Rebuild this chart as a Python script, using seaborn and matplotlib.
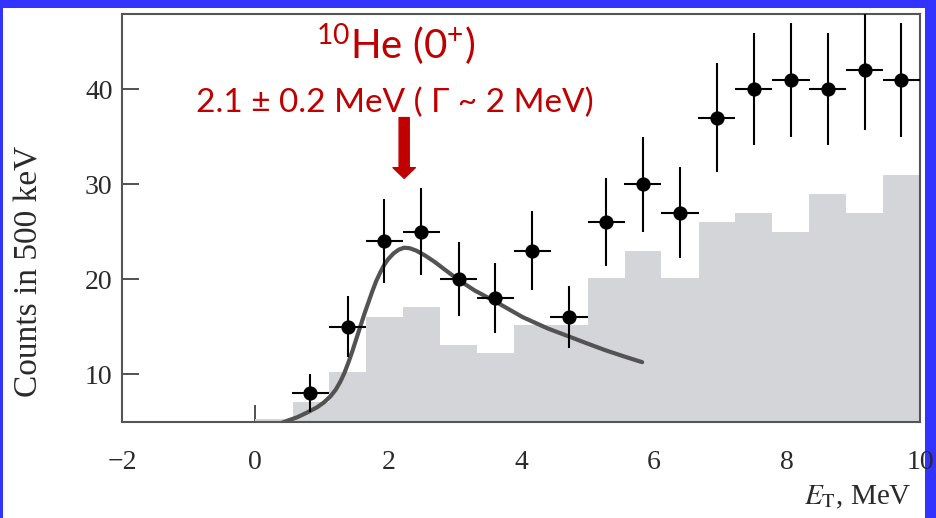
import numpy as np
import pandas as pd
import matplotlib
matplotlib.use("Agg")
import matplotlib.pyplot as plt
import seaborn as sns
from matplotlib.patches import Rectangle

# ---------------- data ----------------
point_x = [0.83, 1.39, 1.94, 2.50, 3.06, 3.61, 4.17, 4.72, 5.28, 5.83,
           6.39, 6.94, 7.50, 8.06, 8.61, 9.17, 9.72]
point_counts = [8, 15, 24, 25, 20, 18, 23, 16, 26, 30, 27, 37, 40, 41, 40, 42, 41]
point_err = [2.0, 3.2, 4.4, 4.6, 3.9, 3.65, 4.2, 3.25, 4.65, 5.0, 4.75,
             5.7, 5.9, 6.0, 5.9, 6.3, 6.0]
bin_half_width = 0.28

hist_edges = [0.0, 0.56, 1.11, 1.67, 2.22, 2.78, 3.33, 3.89, 4.44, 5.00,
              5.56, 6.11, 6.67, 7.22, 7.78, 8.33, 8.89, 9.44, 10.0]
hist_counts = [5.3, 7.1, 10.2, 16.0, 17.1, 13.1, 12.2, 15.2, 15.2, 20.1,
               23.0, 20.1, 26.0, 27.0, 25.0, 29.0, 27.0, 31.0]

fit_x = [0.30, 0.45, 0.63, 0.78, 0.93, 1.03, 1.13, 1.21, 1.28, 1.34, 1.40,
         1.46, 1.52, 1.58, 1.64, 1.70, 1.76, 1.82, 1.88, 1.94, 2.00, 2.08,
         2.16, 2.24, 2.32, 2.42, 2.55, 2.70, 2.85, 3.06, 3.30, 3.62, 4.02,
         4.40, 4.72, 5.00, 5.27, 5.55, 5.82]
fit_y = [4.6, 5.0, 5.45, 5.95, 6.5, 7.0, 7.65, 8.35, 9.2, 10.1, 11.2,
         12.4, 13.7, 15.0, 16.3, 17.5, 18.7, 19.8, 20.7, 21.5, 22.1, 22.7,
         23.1, 23.3, 23.25, 23.0, 22.5, 21.8, 21.0, 19.9, 18.8, 17.6, 16.0,
         14.8, 13.95, 13.2, 12.5, 11.85, 11.25]

x_ticks = [-2, 0, 2, 4, 6, 8, 10]
y_ticks = [10, 20, 30, 40]

title_text = r"$^{10}$He (0$^{+}$)"
subtitle_text = "2.1 ± 0.2 MeV ( Γ ~ 2 MeV)"
peak_energy = 2.24
ylabel_text = "Counts in 500 keV"
xlabel_text = r"$E_{\mathrm{T}}$, MeV"

# ---------------- styling ----------------
sns.set_theme(style="ticks")
plt.rcParams["font.family"] = ["Liberation Serif", "DejaVu Serif"]
plt.rcParams["mathtext.fontset"] = "custom"
plt.rcParams["mathtext.rm"] = "Lato"
plt.rcParams["mathtext.it"] = "Lato:italic"
plt.rcParams["mathtext.bf"] = "Lato:bold"

BLUE = "#3333FF"
RED = "#C00000"
SPINE = "#555555"

fig = plt.figure(figsize=(9.36, 5.18), dpi=100, facecolor=BLUE)
fig.patches.append(Rectangle((3 / 936, 0), (925 - 3) / 936, (518 - 8) / 518,
                             transform=fig.transFigure, facecolor="white",
                             edgecolor="none", zorder=-10))
ax = fig.add_axes([0.1307, 0.1853, 0.8522, 0.7876])
ax.set_facecolor("white")

# histogram (background simulation)
centers = [(a + b) / 2 for a, b in zip(hist_edges[:-1], hist_edges[1:])]
hdf = pd.DataFrame({"E": centers, "w": hist_counts})
sns.histplot(data=hdf, x="E", weights="w", bins=hist_edges, element="step",
             fill=True, color="#d4d5d8", alpha=1, linewidth=0, ax=ax, zorder=1)

# fit curve
sns.lineplot(x=fit_x, y=fit_y, sort=False, color="#535353", linewidth=3.0,
             ax=ax, zorder=2)

# data points with error bars
ax.errorbar(point_x, point_counts, yerr=point_err, xerr=bin_half_width,
            fmt="none", ecolor="black", elinewidth=1.5, capsize=0, zorder=3)
sns.scatterplot(x=point_x, y=point_counts, color="black", edgecolor="black",
                s=105, linewidth=0, ax=ax, zorder=4)

ax.set_xlim(-2, 10)
ax.set_ylim(4.95, 47.9)
ax.set_xticks(x_ticks)
ax.set_yticks(y_ticks)
ax.set_xticklabels([f"{t}".replace("-", "\u2212") for t in x_ticks])
ax.tick_params(axis="both", direction="in", length=12.5, width=1.2,
               color="#333333", labelsize=20, labelcolor="#2a2a2a")
ax.tick_params(axis="x", pad=20)
ax.tick_params(axis="y", pad=7)
for s in ax.spines.values():
    s.set_visible(True)
    s.set_color(SPINE)
    s.set_linewidth(1.5)

ax.set_ylabel(ylabel_text, fontsize=24, color="#2a2a2a")
ax.yaxis.set_label_coords(-0.117, 0.37)
ax.yaxis.label.set_va("center")
ax.set_xlabel(xlabel_text, fontsize=21, color="#2a2a2a", math_fontfamily="stix")
ax.xaxis.set_label_coords(0.99, -0.184)
ax.xaxis.label.set_ha("right")
ax.xaxis.label.set_va("center")

# annotation
ax.text(0.342, 0.924, title_text, transform=ax.transAxes, ha="center",
        va="center", fontsize=29, color=RED, family=["Lato", "DejaVu Sans"],
        math_fontfamily="custom")
ax.text(0.342, 0.783, subtitle_text, transform=ax.transAxes, ha="center",
        va="center", fontsize=24, color=RED, family=["Lato", "DejaVu Sans"])
ax.annotate("", xy=(peak_energy, 30.6), xytext=(peak_energy, 37.0),
            arrowprops=dict(arrowstyle="simple,head_length=0.55,head_width=1.15,tail_width=0.52",
                            mutation_scale=14, color=RED, shrinkA=0, shrinkB=0),
            zorder=5)

fig.savefig("out.png", dpi=100, facecolor=fig.get_facecolor())
